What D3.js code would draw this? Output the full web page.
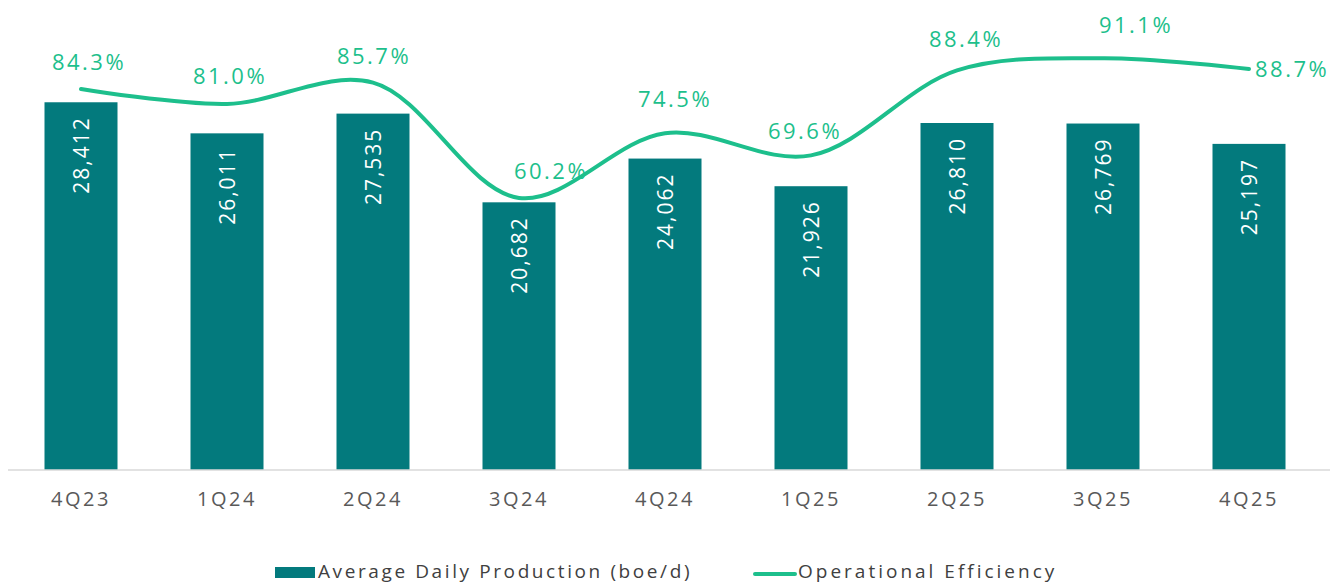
<!DOCTYPE html>
<html>
<head>
<meta charset="utf-8">
<script src="https://cdn.jsdelivr.net/npm/d3@7"></script>
<style>
  body { margin: 0; background: #fff; }
  text { font-family: "Open Sans", "DejaVu Sans", sans-serif; }
</style>
</head>
<body>
<svg id="chart" width="1337" height="584"></svg>
<script>
let quarters = ["4Q23", "1Q24", "2Q24", "3Q24", "4Q24", "1Q25", "2Q25", "3Q25", "4Q25"];
let production = [28412, 26011, 27535, 20682, 24062, 21926, 26810, 26769, 25197];
let efficiency = [84.3, 81.0, 85.7, 60.2, 74.5, 69.6, 88.4, 91.1, 88.7];

// nudges for the percent labels (Excel moved some of them by hand)
let labelDx = [8, 3, 1, 32, 10, -6, 9, 33, 0];
let labelDy = [-27, -28, -26, -27, -34, -24, -31, -33, 0];

let width = 1337, height = 584;
let barColor = "#037a7d", lineColor = "#1dbf8c";

let svg = d3.select("#chart");

let x = d3.scaleBand()
    .domain(quarters)
    .range([8, 1322])
    .paddingInner(0.5)
    .paddingOuter(0.25);

let yBar = d3.scaleLinear()
    .domain([0, 35000])
    .range([470, 17]);

let yLine = d3.scaleLinear()
    .domain([0, 100])
    .range([470, 18]);

let cx = function(d) { return x(d) + x.bandwidth()/2; };

// bars
svg.append("g")
    .selectAll("rect")
    .data(production)
    .enter().append("rect")
    .attr("x", function(d, i) { return x(quarters[i]); })
    .attr("y", function(d) { return yBar(d); })
    .attr("width", x.bandwidth())
    .attr("height", function(d) { return yBar(0) - yBar(d); })
    .attr("fill", barColor);

// bar labels, rotated, inside end
svg.append("g")
    .selectAll("text")
    .data(production)
    .enter().append("text")
    .attr("transform", function(d, i) {
        return "translate(" + cx(quarters[i]) + "," + (yBar(d) + 14) + ") rotate(-90)";
    })
    .attr("dy", "0.36em")
    .style("text-anchor", "end")
    .style("font-size", "21px")
    .style("letter-spacing", "2px")
    .attr("fill", "#fff")
    .text(function(d) { return d3.format(",")(d); });

// x axis
let xAxis = svg.append("g")
    .attr("transform", "translate(0,470)")
    .call(d3.axisBottom(x).tickSize(0).tickPadding(22));
xAxis.select(".domain").attr("stroke", "#d9d9d9").attr("stroke-width", 1.5)
    .attr("d", "M8,0H1330");
xAxis.selectAll("text")
    .style("font-size", "20px")
    .style("letter-spacing", "2.5px")
    .attr("fill", "#595959");

// efficiency line
let line = d3.line()
    .x(function(d, i) { return cx(quarters[i]); })
    .y(function(d) { return yLine(d); })
    .curve(d3.curveCatmullRom.alpha(0.5));

svg.append("path")
    .datum(efficiency)
    .attr("d", line)
    .attr("fill", "none")
    .attr("stroke", lineColor)
    .attr("stroke-width", 4)
    .attr("stroke-linecap", "round");

// percent labels
svg.append("g")
    .selectAll("text")
    .data(efficiency)
    .enter().append("text")
    .attr("x", function(d, i) { return cx(quarters[i]) + labelDx[i]; })
    .attr("y", function(d, i) { return yLine(d) + labelDy[i]; })
    .attr("dy", "0.35em")
    .style("text-anchor", function(d, i) { return i == efficiency.length - 1 ? "start" : "middle"; })
    .attr("dx", function(d, i) { return i == efficiency.length - 1 ? 6 : 0; })
    .style("font-size", "22px")
    .style("letter-spacing", "2.5px")
    .attr("fill", lineColor)
    .text(function(d) { return d.toFixed(1) + "%"; });

// legend
let legend = svg.append("g");
legend.append("rect")
    .attr("x", 275).attr("y", 567)
    .attr("width", 40).attr("height", 11)
    .attr("fill", barColor);
legend.append("text")
    .attr("x", 318).attr("y", 578)
    .style("font-size", "19px")
    .style("letter-spacing", "2.6px")
    .attr("fill", "#404040")
    .text("Average Daily Production (boe/d)");
legend.append("line")
    .attr("x1", 755).attr("x2", 795)
    .attr("y1", 574).attr("y2", 574)
    .attr("stroke", lineColor)
    .attr("stroke-width", 4)
    .attr("stroke-linecap", "round");
legend.append("text")
    .attr("x", 798).attr("y", 578)
    .style("font-size", "19px")
    .style("letter-spacing", "3px")
    .attr("fill", "#404040")
    .text("Operational Efficiency");
</script>
</body>
</html>
